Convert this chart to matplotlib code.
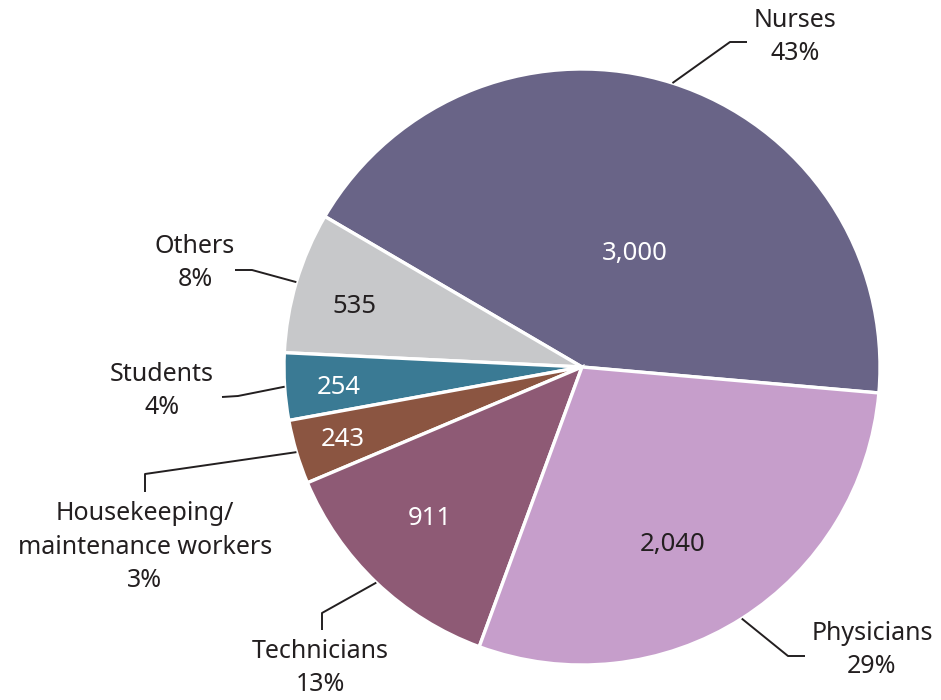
import numpy as np
import matplotlib.pyplot as plt

plt.rcParams['font.family'] = ['Noto Sans', 'DejaVu Sans']

# staff groups, counter-clockwise starting from Nurses
groups = ['Nurses', 'Others', 'Students', 'Housekeeping/\nmaintenance workers',
          'Technicians', 'Physicians']
counts = [3000, 535, 254, 243, 911, 2040]
shares = ['43%', '8%', '4%', '3%', '13%', '29%']
colors = ['#696487', '#c7c8ca', '#3a7a94', '#8b5541', '#8e5a75', '#c69ecb']
value_colors = ['white', '#231f20', 'white', 'white', 'white', '#231f20']

# polar position (angle in degrees, radius) of the count inside each slice
value_ang = [64.9, 165.0, 184.9, 196.9, 225.0, 297.1]
value_r = [0.42, 0.79, 0.82, 0.84, 0.72, 0.67]

W, H = 941, 700
cx, cy, R = 582, 367, 298


def px(x, y):
    # pixel position -> data coordinates (pie radius = 1)
    return (x - cx) / R, (cy - y) / R


fig = plt.figure(figsize=(W / 100, H / 100), dpi=100)
ax = fig.add_axes([0, 0, 1, 1])

wedges, _ = ax.pie(counts, colors=colors, startangle=-5.0, counterclock=True,
                   radius=1, wedgeprops=dict(edgecolor='white', linewidth=2.4))

ax.set_xlim(-cx / R, (W - cx) / R)
ax.set_ylim(-(H - cy) / R, cy / R)
ax.set_aspect('auto')
ax.axis('off')

# outside labels: text centre, elbow point, line end
outside = [
    ((795, 37), (730, 42), (747, 42)),
    ((195, 263), (252, 270), (235, 270)),
    ((162, 391), (238, 396), (222, 397)),
    ((145, 547), (145, 474), (145, 492)),
    ((320, 668), (322, 613), (322, 630)),
    ((872, 650), (788, 656), (805, 656)),
]

for w, n, name, share, vc, va_, vr, (tpos, elbow, end) in zip(
        wedges, counts, groups, shares, value_colors, value_ang, value_r, outside):
    a = np.deg2rad(va_)
    ax.text(vr * np.cos(a), vr * np.sin(a), f'{n:,}', color=vc,
            fontsize=18.5, ha='center', va='center')
    mid = np.deg2rad((w.theta1 + w.theta2) / 2)
    x0, y0 = np.cos(mid), np.sin(mid)
    ex, ey = px(*elbow)
    lx, ly = px(*end)
    ax.plot([x0, ex, lx], [y0, ey, ly], color='#231f20', lw=1.4,
            solid_capstyle='butt', clip_on=False)
    tx, ty = px(*tpos)
    ax.text(tx, ty, f'{name}\n{share}', color='#231f20', fontsize=18,
            ha='center', va='center', linespacing=1.45)

fig.savefig('out.png', dpi=100, facecolor='white')
